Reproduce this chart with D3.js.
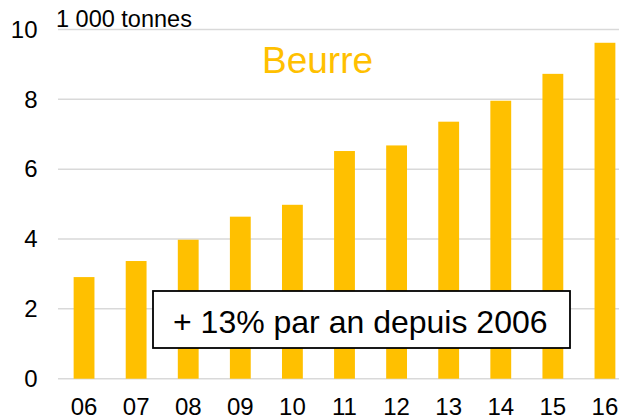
<!DOCTYPE html>
<html><head><meta charset="utf-8">
<script src="https://cdn.jsdelivr.net/npm/d3@7"></script>
<style>html,body{margin:0;padding:0;background:#fff;}svg{display:block;font-family:"Liberation Sans",Arial,sans-serif;}</style>
</head><body>
<script>
const years = ["06","07","08","09","10","11","12","13","14","15","16"];
const values = [2.91, 3.37, 3.98, 4.64, 4.98, 6.52, 6.68, 7.36, 7.96, 8.73, 9.62];
const yTicks = [0, 2, 4, 6, 8, 10];
const unitLabel = "1 000 tonnes";
const titleText = "Beurre";
const noteText = "+ 13% par an depuis 2006";

const W = 619, H = 419;
const svg = d3.select("body").append("svg").attr("width", W).attr("height", H);
const x = d3.scaleBand().domain(years).range([58, 631]).paddingInner(0.6).paddingOuter(0.3);
const y = d3.scaleLinear().domain([0, 10]).range([378.7, 29.5]);

// gridlines
svg.append("g").selectAll("line").data(yTicks).join("line")
  .attr("x1", 58).attr("x2", W).attr("y1", d => y(d)).attr("y2", d => y(d))
  .attr("stroke", "#d9d9d9").attr("stroke-width", 1.5);

// y axis labels
const yAxis = svg.append("g").attr("transform", "translate(37.5,0)")
  .call(d3.axisLeft(y).tickValues(yTicks).tickSize(0).tickPadding(0).tickFormat(d3.format("d")));
yAxis.select(".domain").remove();
yAxis.selectAll("text").attr("font-size", 24).attr("fill", "#000").attr("font-family", "Liberation Sans, Arial, sans-serif");

// bars
svg.append("g").selectAll("rect").data(values).join("rect")
  .attr("x", (d, i) => x(years[i])).attr("width", x.bandwidth())
  .attr("y", d => y(d)).attr("height", d => y(0) - y(d))
  .attr("fill", "#FFC000");

// x axis labels
const xAxis = svg.append("g").attr("transform", "translate(0,398)")
  .call(d3.axisBottom(x).tickSize(0).tickPadding(0));
xAxis.select(".domain").remove();
xAxis.selectAll("text").attr("font-size", 24).attr("fill", "#000").attr("dy", "0.72em").attr("font-family", "Liberation Sans, Arial, sans-serif");

// unit label
svg.append("text").attr("x", 56).attr("y", 26.5).attr("font-size", 23.5).attr("fill", "#000").text(unitLabel);

// title
svg.append("text").attr("x", 262).attr("y", 72.5).attr("font-size", 37).attr("fill", "#FFC000").text(titleText);

// note box
svg.append("rect").attr("x", 153).attr("y", 291).attr("width", 417).attr("height", 57)
  .attr("fill", "#fff").attr("stroke", "#000").attr("stroke-width", 1.8);
svg.append("text").attr("x", 173).attr("y", 332.5).attr("font-size", 32).attr("fill", "#000").text(noteText);
</script>
</body></html>
